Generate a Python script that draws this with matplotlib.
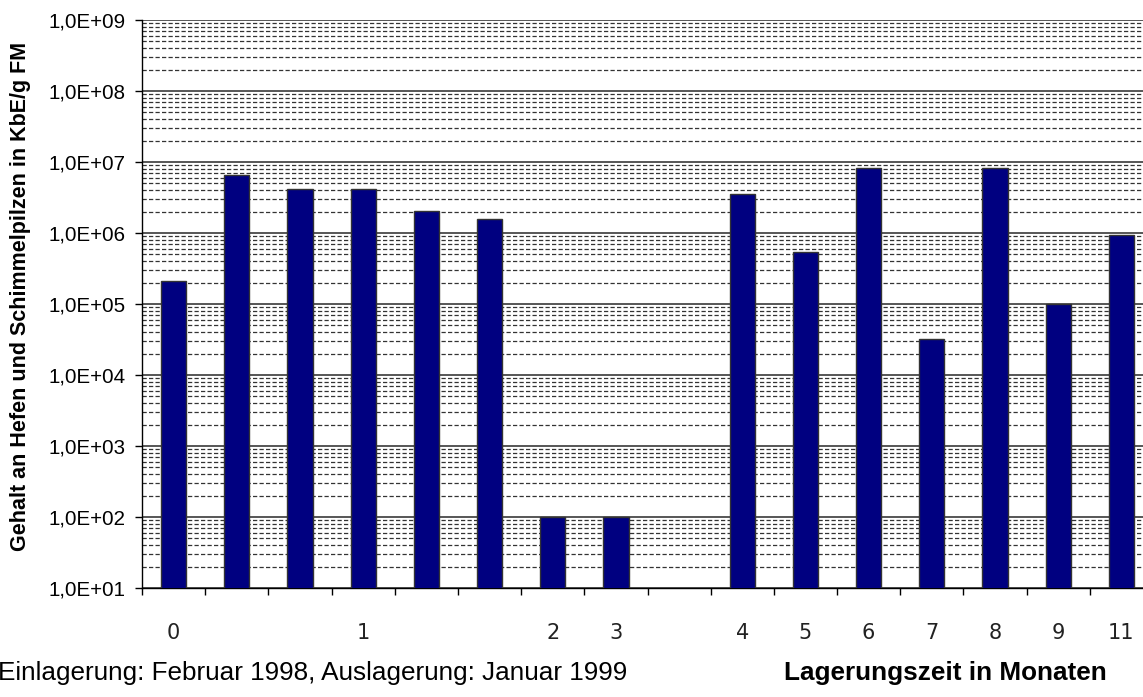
import matplotlib

matplotlib.use("Agg")

import matplotlib.pyplot as plt  # noqa: E402
import numpy as np  # noqa: E402
from matplotlib.ticker import FixedLocator, FuncFormatter, LogLocator, NullFormatter  # noqa: E402

# one slot per sample; empty string = slot without a month label
month_labels = ["0", "", "", "1", "", "", "2", "3", "", "4", "5", "6", "7", "8", "9", "11"]
# yeast and mould count in KbE/g FM (nan = no bar)
counts = [2.1e5, 6.5e6, 4.1e6, 4.1e6, 2.05e6, 1.6e6, 1.0e2, 1.0e2, np.nan,
          3.5e6, 5.4e5, 8.2e6, 3.2e4, 8.2e6, 1.0e5, 9.3e5]

ylabel = "Gehalt an Hefen und Schimmelpilzen in KbE/g FM"
xlabel = "Lagerungszeit in Monaten"
note = "Einlagerung: Februar 1998, Auslagerung: Januar 1999"

plt.rcParams["font.family"] = ["Liberation Sans", "DejaVu Sans"]

W, H = 1143, 697
fig = plt.figure(figsize=(W / 100, H / 100), dpi=100)
ax = fig.add_axes([142 / W, 1 - 588 / H, 1011 / W, 568 / H])

x = np.arange(len(counts))
ax.bar(x, counts, width=0.4, color="#000080", edgecolor="#333333",
       linewidth=1.0, zorder=3)

ax.set_yscale("log")
ax.set_ylim(1e1, 1e9)
ax.set_xlim(-0.5, len(counts) - 0.5)

# y axis: Excel style scientific labels
ax.yaxis.set_major_locator(LogLocator(base=10, numticks=20))
ax.yaxis.set_minor_locator(LogLocator(base=10, subs=np.arange(2, 10), numticks=20))
ax.yaxis.set_major_formatter(FuncFormatter(lambda v, _: f"1,0E+{int(round(np.log10(v))):02d}"))
ax.yaxis.set_minor_formatter(NullFormatter())
ax.tick_params(axis="y", which="major", direction="out", length=5, width=1,
               labelsize=14.8, colors="black", pad=7)
ax.tick_params(axis="y", which="minor", length=0)

ax.grid(True, axis="y", which="major", color="#3a3a3a", linewidth=1.2, zorder=0)
ax.grid(True, axis="y", which="minor", color="#333333", linewidth=0.9,
        linestyle=(0, (3.4, 1.8)), zorder=0)
ax.set_axisbelow(True)

# x axis: tick marks between slots, labels under slot centres
ax.xaxis.set_major_locator(FixedLocator(np.arange(len(counts) + 1) - 0.5))
ax.xaxis.set_major_formatter(NullFormatter())
ax.xaxis.set_minor_locator(FixedLocator(x))
ax.set_xticklabels(month_labels, minor=True)
ax.tick_params(axis="x", which="major", direction="out", length=5, width=1)
ax.tick_params(axis="x", which="minor", length=0, pad=25, labelsize=15,
               labelcolor="#222222")
for lbl in ax.get_xticklabels(minor=True):
    lbl.set_family(["Liberation Sans Narrow", "DejaVu Sans"])

for side in ("top", "right"):
    ax.spines[side].set_visible(False)
for side in ("left", "bottom"):
    ax.spines[side].set_color("black")
    ax.spines[side].set_linewidth(1.0)

fig.text(21 / W, 1 - 296 / H, ylabel, rotation=90, ha="center", va="center",
         fontsize=15.5, fontweight="bold")
fig.text(-2 / W, 1 - 673 / H, note, ha="left", va="center", fontsize=18.8)
fig.text(945 / W, 1 - 673 / H, xlabel, ha="center", va="center",
         fontsize=18.8, fontweight="bold")

fig.savefig("out.png", dpi=100)
plt.close(fig)
